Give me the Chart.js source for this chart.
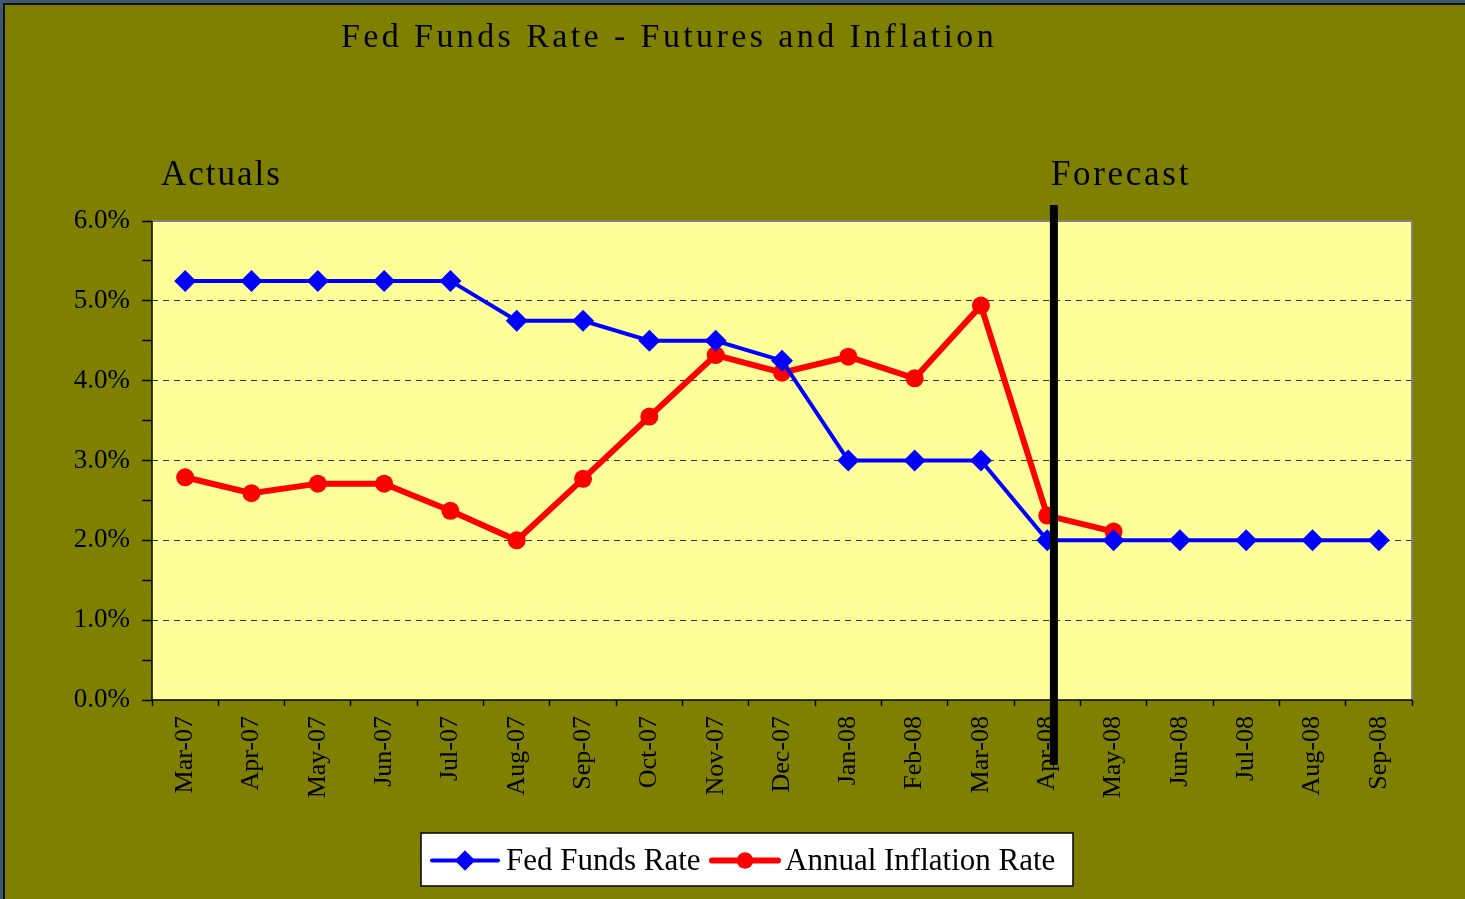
<!DOCTYPE html>
<html>
<head>
<meta charset="utf-8">
<script src="https://cdn.jsdelivr.net/npm/chart.js@4.4.1/dist/chart.umd.min.js"></script>
<style>
  html, body { margin: 0; padding: 0; background: #3d5a6e; }
  #wrap { position: absolute; left: 0; top: 0; width: 1465px; height: 899px; }
</style>
</head>
<body>
<div id="wrap"><canvas id="chart" width="1465" height="899"></canvas></div>
<script>
// Chart data
const months = ['Mar-07', 'Apr-07', 'May-07', 'Jun-07', 'Jul-07', 'Aug-07', 'Sep-07', 'Oct-07',
    'Nov-07', 'Dec-07', 'Jan-08', 'Feb-08', 'Mar-08', 'Apr-08', 'May-08', 'Jun-08',
    'Jul-08', 'Aug-08', 'Sep-08'];
const fedFunds = [5.25, 5.25, 5.25, 5.25, 5.25, 4.75, 4.75, 4.5, 4.5, 4.25, 3.0, 3.0, 3.0,
    2.0, 2.0, 2.0, 2.0, 2.0, 2.0];
const inflation = [2.79, 2.59, 2.71, 2.71, 2.37, 2.0, 2.77, 3.55, 4.32, 4.10, 4.30, 4.03, 4.94,
    2.31, 2.11, null, null, null, null];
const seriesNames = ['Fed Funds Rate', 'Annual Inflation Rate'];
const yMin = 0, yMax = 6, yStep = 0.5;
const forecastIndex = 13.1; // where the Actuals / Forecast divider sits

const OLIVE = '#808000';
const PLOT_BG = '#FFFF99';
const SERIF = '"Liberation Serif", "DejaVu Serif", serif';

// Background, plot fill, axis lines, divider, title, notes, legend
const decorPlugin = {
    id: 'decor',
    beforeDraw(chart) {
        const { ctx, chartArea: a } = chart;
        ctx.save();
        ctx.fillStyle = '#3d5a6e';
        ctx.fillRect(0, 0, chart.width, chart.height);
        ctx.fillStyle = '#111';
        ctx.fillRect(3, 3, chart.width - 3, chart.height - 3);
        ctx.fillStyle = OLIVE;
        ctx.fillRect(5, 5, chart.width - 5, chart.height - 5);
        ctx.fillStyle = PLOT_BG;
        ctx.fillRect(a.left, a.top, a.right - a.left, a.bottom - a.top);
        ctx.restore();
    },
    beforeDatasetsDraw(chart) {
        const { ctx, chartArea: a } = chart;
        ctx.save();
        // plot border (grey top / right)
        ctx.strokeStyle = '#808080';
        ctx.lineWidth = 2;
        ctx.beginPath();
        ctx.moveTo(a.left, a.top);
        ctx.lineTo(a.right, a.top);
        ctx.lineTo(a.right, a.bottom);
        ctx.stroke();
        // axis lines
        ctx.strokeStyle = '#000';
        ctx.lineWidth = 1.5;
        ctx.beginPath();
        ctx.moveTo(a.left, a.top);
        ctx.lineTo(a.left, a.bottom);
        ctx.lineTo(a.right, a.bottom);
        ctx.stroke();
        ctx.restore();
    },
    afterDraw(chart) {
        const { ctx } = chart;
        const xs = chart.scales.x;
        ctx.save();

        // divider between actuals and forecast
        const dx = xs.getPixelForValue(forecastIndex);
        ctx.fillStyle = '#000';
        ctx.fillRect(dx - 4, 205, 8, 560);

        // title
        ctx.fillStyle = '#000';
        ctx.textBaseline = 'alphabetic';
        ctx.font = '34px ' + SERIF;
        ctx.letterSpacing = '3.4px';
        ctx.textAlign = 'left';
        ctx.fillText('Fed Funds Rate - Futures and Inflation', 341, 47);

        // section notes
        ctx.font = '35px ' + SERIF;
        ctx.letterSpacing = '2px';
        ctx.fillText('Actuals', 161, 185);
        ctx.letterSpacing = '2.7px';
        ctx.fillText('Forecast', dx - 3, 185);
        ctx.letterSpacing = '0px';

        // legend
        const lx = 421, ly = 833, lw = 652, lh = 53;
        ctx.fillStyle = '#fff';
        ctx.fillRect(lx, ly, lw, lh);
        ctx.strokeStyle = '#000';
        ctx.lineWidth = 1.5;
        ctx.strokeRect(lx, ly, lw, lh);
        const cy = ly + lh / 2 + 1;
        const entries = [
            { x: 432, text: seriesNames[0], ds: chart.data.datasets[0], tx: 506 },
            { x: 712, text: seriesNames[1], ds: chart.data.datasets[1], tx: 785 }
        ];
        ctx.font = '31px ' + SERIF;
        ctx.textBaseline = 'middle';
        entries.forEach(e => {
            ctx.strokeStyle = e.ds.borderColor;
            ctx.lineWidth = e.ds.borderWidth;
            ctx.lineCap = 'round';
            ctx.beginPath();
            ctx.moveTo(e.x, cy);
            ctx.lineTo(e.x + 66, cy);
            ctx.stroke();
            ctx.fillStyle = e.ds.borderColor;
            Chart.helpers.drawPoint(ctx, {
                pointStyle: e.ds.pointStyle,
                radius: e.ds.pointRadius - 1,
                borderWidth: 0,
                rotation: 0
            }, e.x + 33, cy);
            ctx.fill();
            ctx.fillStyle = '#000';
            ctx.fillText(e.text, e.tx, cy + 1);
        });
        ctx.restore();
    }
};

new Chart(document.getElementById('chart'), {
    type: 'line',
    data: {
        labels: months,
        datasets: [
            {
                label: seriesNames[0],
                data: fedFunds,
                borderColor: '#0000FF',
                backgroundColor: '#0000FF',
                borderWidth: 4,
                pointStyle: 'rectRot',
                pointRadius: 11,
                pointHoverRadius: 11,
                pointBorderWidth: 0,
                tension: 0
            },
            {
                label: seriesNames[1],
                data: inflation,
                borderColor: '#FF0000',
                backgroundColor: '#FF0000',
                borderWidth: 6,
                pointStyle: 'circle',
                pointRadius: 9,
                pointHoverRadius: 9,
                pointBorderWidth: 0,
                tension: 0,
                spanGaps: false
            }
        ]
    },
    options: {
        responsive: false,
        animation: false,
        events: [],
        layout: { padding: { left: 0, right: 53, top: 221, bottom: 0 } },
        plugins: {
            legend: { display: false },
            title: { display: false },
            tooltip: { enabled: false }
        },
        scales: {
            x: {
                offset: true,
                grid: {
                    offset: true,
                    drawOnChartArea: false,
                    drawTicks: true,
                    tickLength: 6,
                    tickColor: '#000',
                    tickWidth: 1.5
                },
                border: { display: false },
                ticks: {
                    minRotation: 90,
                    maxRotation: 90,
                    padding: 10,
                    color: '#000',
                    font: { family: SERIF, size: 26 }
                },
                afterFit(scale) { scale.height = 199; }
            },
            y: {
                min: yMin,
                max: yMax,
                grid: {
                    color: ctx => (ctx.tick && ctx.tick.value % 1 === 0 && ctx.tick.value > 0 && ctx.tick.value < yMax) ? '#333' : 'rgba(0,0,0,0)',
                    lineWidth: 1,
                    drawTicks: true,
                    tickLength: 10,
                    tickColor: '#000',
                    tickWidth: 1.5
                },
                border: { display: false, dash: [6, 5] },
                ticks: {
                    stepSize: yStep,
                    padding: 12,
                    color: '#000',
                    font: { family: SERIF, size: 27 },
                    callback: v => (v % 1 === 0 ? v.toFixed(1) + '%' : '')
                },
                afterFit(scale) { scale.width = 152; }
            }
        }
    },
    plugins: [decorPlugin]
});
</script>
</body>
</html>
